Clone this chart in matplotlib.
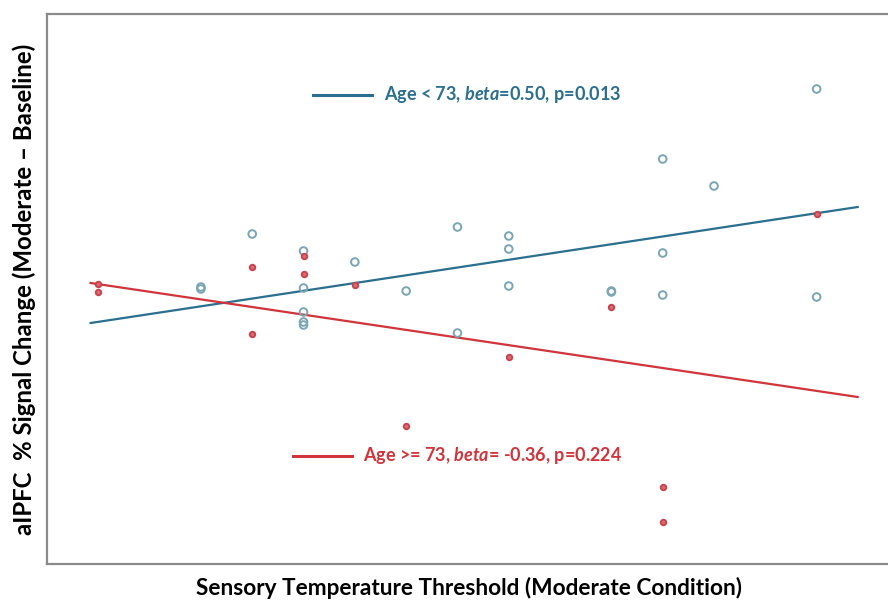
import matplotlib
matplotlib.use("Agg")
import matplotlib.pyplot as plt

plt.rcParams["font.family"] = ["Lato", "DejaVu Sans"]
plt.rcParams["mathtext.fontset"] = "custom"
plt.rcParams["mathtext.rm"] = "Lato:bold"
plt.rcParams["mathtext.it"] = "Lato:italic:bold"

# threshold (x) and signal change (y, arbitrary units)
young_x = [3, 3, 4, 5, 5, 5, 5, 5, 6, 7, 8, 8, 9, 9, 9, 11, 11, 12, 12, 12, 13, 15, 15]
young_y = [2.77, 2.75, 3.30, 3.13, 2.76, 2.52, 2.42, 2.39, 3.02, 2.73, 3.37, 2.31,
           3.28, 3.15, 2.78, 2.73, 2.72, 4.05, 3.11, 2.69, 3.78, 4.75, 2.67]
old_x = [1, 1, 4, 4, 5, 5, 6, 7, 9, 11, 12, 12, 15]
old_y = [2.80, 2.72, 2.97, 2.30, 3.08, 2.90, 2.79, 1.38, 2.07, 2.57, 0.77, 0.42, 3.50]

# fitted regression lines (end points)
fit_x = [0.85, 15.8]
young_fit = [2.41, 3.57]
old_fit = [2.81, 1.67]

young_label = "Age < 73, $beta$=0.50, p=0.013"
old_label = "Age >= 73, $beta$= -0.36, p=0.224"

blue_line = "#2b6f8e"
blue_pt = "#7aa5b3"
red_line = "#d1343a"
red_pt = "#c8414b"

fig = plt.figure(figsize=(8.88, 6), dpi=100)
ax = fig.add_axes([47 / 888, 36 / 600, 843 / 888, 550 / 600])

ax.plot(fit_x, young_fit, color=blue_line, lw=1.6)
ax.plot(fit_x, old_fit, color=red_line, lw=1.6)
ax.scatter(young_x, young_y, s=30, facecolors="none", edgecolors=blue_pt, linewidths=1.4, zorder=3)
ax.scatter(old_x, old_y, s=16, facecolors="#d96a72", edgecolors=red_pt, linewidths=1.3, zorder=3)

ax.set_xlim(0, 16.43)
ax.set_ylim(0, 5.5)
ax.set_xticks([])
ax.set_yticks([])
for s in ax.spines.values():
    s.set_color("#8a8a8a")
    s.set_linewidth(1.6)
ax.spines["right"].set_visible(False)

# in-plot key
ax.plot([5.18, 6.33], [4.69, 4.69], color=blue_line, lw=2.2)
ax.text(6.57, 4.69, young_label, color=blue_line, fontsize=13, fontweight="bold", va="center")
ax.plot([4.8, 5.95], [1.08, 1.08], color=red_line, lw=2.2)
ax.text(6.15, 1.08, old_label, color=red_line, fontsize=13, fontweight="bold", va="center")

ax.set_xlabel("Sensory Temperature Threshold (Moderate Condition)", fontsize=16.3,
              fontweight="bold", labelpad=9)
ax.set_ylabel("aIPFC  % Signal Change (Moderate \u2013 Baseline)", fontsize=17.3,
              fontweight="bold", labelpad=8)

fig.savefig("out.png", dpi=100)
